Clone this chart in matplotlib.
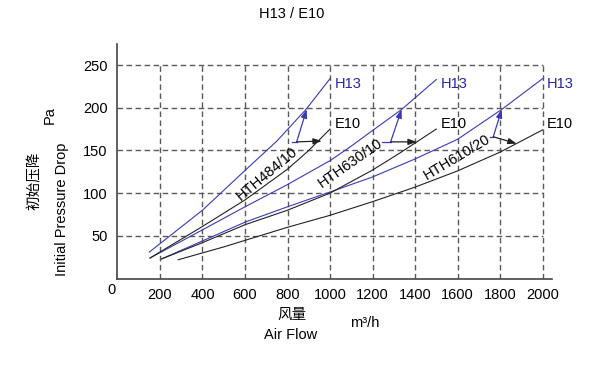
import matplotlib
matplotlib.use("Agg")
import matplotlib.pyplot as plt
import numpy as np

plt.rcParams['font.family'] = ['Liberation Sans', 'Noto Sans CJK SC', 'DejaVu Sans']

# curves (air flow m3/h, pressure drop Pa)
x484_h13 = [150, 400, 576, 750, 887, 1000]
y484_h13 = [31, 80, 121, 161, 198, 234]
x484_e10 = [153, 400, 600, 800, 900, 1000]
y484_e10 = [24, 61, 92, 128, 150, 175]

x630_h13 = [153, 400, 600, 800, 921, 1000, 1094, 1204, 1337, 1500]
y630_h13 = [24, 57, 84, 110, 127, 138, 154, 174, 198, 233]
x630_e10 = [208, 400, 600, 800, 1000, 1200, 1329, 1500]
y630_e10 = [23, 42, 63, 80, 100, 127, 147, 175]

x610_h13 = [208, 400, 600, 800, 1031, 1201, 1400, 1600, 1808, 2000]
y610_h13 = [23, 44, 66, 84, 104, 119, 140, 163, 198, 234]
x610_e10 = [286, 500, 800, 1000, 1200, 1400, 1600, 1800, 2000]
y610_e10 = [22, 37, 60, 74, 90, 107, 126, 148, 174]

models = ['HTH484/10', 'HTH630/10', 'HTH610/20']
model_pos = [(702, 123), (1094, 135), (1596, 142)]
model_rot = [40, 35, 31]
end_flow = [1000, 1500, 2000]

# leader arrows: (start, junction, H13 tip, E10 tip)
leaders = [
    ((820, 160), (843, 160), (890, 198), (961, 161)),
    ((1243, 160), (1285, 160), (1337, 198), (1408, 160)),
    ((1753, 166), (1768, 166), (1808, 198), (1878, 158)),
]

xticks = [200, 400, 600, 800, 1000, 1200, 1400, 1600, 1800, 2000]
yticks = [50, 100, 150, 200, 250]

blue = '#3a3ab8'
black = '#222222'
gridc = '#5a5a5a'

fig = plt.figure(figsize=(6, 3.67), dpi=100)
ax = fig.add_axes([0.1958, 0.2411, 0.9195 - 0.1958, 0.8801 - 0.2411])
ax.set_xlim(0, 2043)
ax.set_ylim(0, 274.6)

# dashed grid inside the 0-2000 / 0-250 box
ax.hlines(yticks, 0, 2000, colors=gridc, linestyles=(0, (4, 2.5)), linewidth=1.0)
ax.vlines(xticks, 0, 250, colors=gridc, linestyles=(0, (4, 2.5)), linewidth=1.0)

ax.plot(x484_h13, y484_h13, color=blue, lw=0.8)
ax.plot(x630_h13, y630_h13, color=blue, lw=0.8)
ax.plot(x610_h13, y610_h13, color=blue, lw=0.8)
ax.plot(x484_e10, y484_e10, color=black, lw=0.8)
ax.plot(x630_e10, y630_e10, color=black, lw=0.8)
ax.plot(x610_e10, y610_e10, color=black, lw=0.8)

for xe in end_flow:
    ax.text(xe + 22, 228, 'H13', color='#2424b0', fontsize=10.5, va='center', ha='left')
    ax.text(xe + 22, 181, 'E10', color='black', fontsize=10.5, va='center', ha='left')

for name, (px, py), rot in zip(models, model_pos, model_rot):
    ax.text(px, py, name, fontsize=10.5, rotation=rot, ha='center', va='center',
            rotation_mode='anchor')

for st, jn, tb, te in leaders:
    ax.plot([st[0], jn[0]], [st[1], jn[1]], color=blue, lw=0.9)
    ax.annotate('', xy=tb, xytext=jn,
                arrowprops=dict(arrowstyle='-|>,head_length=0.5,head_width=0.18',
                                color=blue, lw=0.9, shrinkA=0, shrinkB=0))
    ax.annotate('', xy=te, xytext=jn,
                arrowprops=dict(arrowstyle='-|>,head_length=0.5,head_width=0.18',
                                color=black, lw=0.9, shrinkA=0, shrinkB=0))

ax.set_xticks(xticks)
ax.set_yticks(yticks)
ax.tick_params(length=0, labelsize=10.5, pad=7, colors='black')
ax.text(-27, -13.5, '0', fontsize=10.5, ha='center', va='center', clip_on=False)

for s in ['top', 'right']:
    ax.spines[s].set_visible(False)
for s in ['left', 'bottom']:
    ax.spines[s].set_color('#444444')
    ax.spines[s].set_linewidth(1.2)

fig.text(292 / 600, 1 - 14 / 367, 'H13 / E10', fontsize=10.5, ha='center', va='center')
fig.text(50 / 600, 1 - 115 / 367, 'Pa', fontsize=10.5, rotation=90, ha='center', va='center')
fig.text(35 / 600, 1 - 181 / 367, '初始压降', fontsize=10.5, rotation=90, ha='center', va='center')
fig.text(62 / 600, 1 - 209 / 367, 'Initial Pressure Drop', fontsize=10.5, rotation=90,
         ha='center', va='center')
fig.text(291.7 / 600, 1 - 315 / 367, '风量', fontsize=10.5, ha='center', va='center')
fig.text(290.7 / 600, 1 - 335 / 367, 'Air Flow', fontsize=10.5, ha='center', va='center')
fig.text(364.5 / 600, 1 - 323 / 367, 'm³/h', fontsize=10.5, ha='center', va='center')

fig.savefig('out.png', dpi=100)
